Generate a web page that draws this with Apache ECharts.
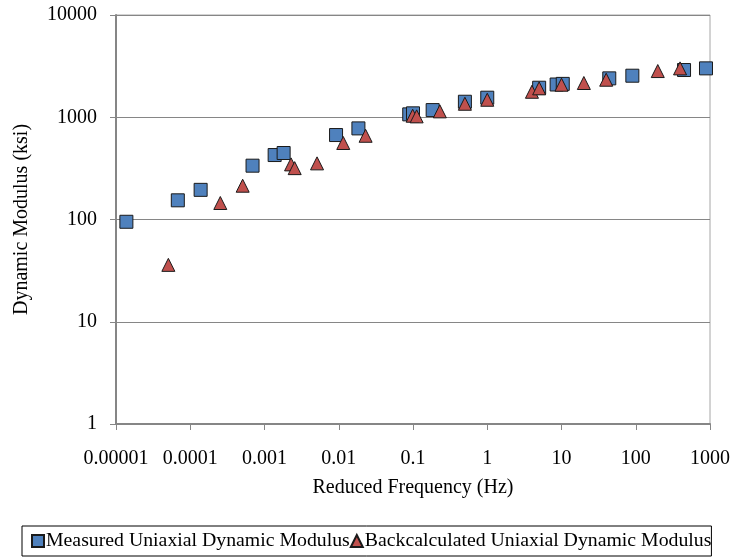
<!DOCTYPE html>
<html>
<head>
<meta charset="utf-8">
<script src="https://cdn.jsdelivr.net/npm/echarts@6/dist/echarts.min.js"></script>
<style>
  html, body { margin: 0; padding: 0; background: #fff; }
  #chart { width: 735px; height: 559px; }
</style>
</head>
<body>
<div id="chart"></div>
<script>
// Reduced frequency (Hz) and dynamic modulus (ksi) for each data set
const measuredFreq = [1.38e-5, 6.8e-5, 1.38e-4, 6.9e-4, 1.37e-3, 1.81e-3, 9.2e-3, 0.0184, 0.089, 0.1, 0.184, 0.5, 1.0, 5.0, 8.6, 10.4, 44, 90, 447, 883];
const measuredMod  = [95, 154, 195, 336, 427, 447, 670, 778, 1067, 1092, 1175, 1418, 1553, 1944, 2090, 2120, 2400, 2548, 2897, 3007];

const backFreq = [5.07e-5, 2.54e-4, 5.08e-4, 2.28e-3, 2.55e-3, 5.1e-3, 0.0115, 0.023, 0.099, 0.112, 0.23, 0.5, 1.0, 4.0, 5.0, 10, 20, 40, 198, 395];
const backMod  = [36, 145, 214, 346, 318, 354, 560, 659, 1035, 1020, 1142, 1355, 1483, 1775, 1918, 2080, 2162, 2328, 2830, 3006];

const seriesNames = ['Measured Uniaxial Dynamic Modulus', 'Backcalculated Uniaxial Dynamic Modulus'];
const xTickLabels = ['0.00001', '0.0001', '0.001', '0.01', '0.1', '1', '10', '100', '1000'];
const yTickLabels = ['1', '10', '100', '1000', '10000'];

const FONT = '"Liberation Serif", "Times New Roman", serif';
const AXIS_GRAY = '#868686';

function pairs(xs, ys) { return xs.map((x, i) => [x, ys[i]]); }
function decadeIndex(v, firstExp) { return Math.round(Math.log10(v)) - firstExp; }

const chart = echarts.init(document.getElementById('chart'), null, { renderer: 'canvas' });
chart.setOption({
  animation: false,
  backgroundColor: '#ffffff',
  textStyle: { fontFamily: FONT },
  grid: {
    left: 116, right: 25, top: 15, bottom: 135,
    show: true, borderColor: '#a6a6a6', borderWidth: 1, backgroundColor: 'transparent'
  },
  xAxis: {
    type: 'log', logBase: 10, min: 1e-5, max: 1000, splitNumber: 8,
    name: 'Reduced Frequency (Hz)', nameLocation: 'middle', nameGap: 54,
    nameTextStyle: { fontFamily: FONT, fontSize: 20, color: '#000' },
    axisLine: { show: true, lineStyle: { color: AXIS_GRAY, width: 2 } },
    axisTick: { show: true, inside: false, length: 6, lineStyle: { color: AXIS_GRAY, width: 1 } },
    axisLabel: {
      margin: 25, fontFamily: FONT, fontSize: 20, color: '#000',
      formatter: v => xTickLabels[decadeIndex(v, -5)] ?? ''
    },
    splitLine: { show: false },
    minorTick: { show: false }
  },
  yAxis: {
    type: 'log', logBase: 10, min: 1, max: 10000, splitNumber: 4,
    name: 'Dynamic Modulus (ksi)', nameLocation: 'middle', nameGap: 84,
    nameTextStyle: { fontFamily: FONT, fontSize: 20, color: '#000' },
    axisLine: { show: true, lineStyle: { color: AXIS_GRAY, width: 2 } },
    axisTick: { show: true, inside: false, length: 6, lineStyle: { color: AXIS_GRAY, width: 1 } },
    axisLabel: {
      margin: 19, fontFamily: FONT, fontSize: 20, color: '#000',
      padding: [4, 0, 0, 0],
      formatter: v => yTickLabels[decadeIndex(v, 0)] ?? ''
    },
    splitLine: { show: true, lineStyle: { color: AXIS_GRAY, width: 1 } }
  },
  legend: {
    left: 22, top: 526,
    orient: 'horizontal',
    padding: [5, 0, 5, 9],
    borderColor: '#000', borderWidth: 1,
    itemGap: 0, itemWidth: 12, itemHeight: 12,
    textStyle: { fontFamily: FONT, fontSize: 19.8, color: '#000', padding: [0, 0, 0, -3] },
    data: [
      { name: seriesNames[0], icon: 'rect' },
      { name: seriesNames[1], icon: 'triangle' }
    ]
  },
  series: [
    {
      name: seriesNames[0], type: 'scatter', symbol: 'rect', symbolSize: 13,
      itemStyle: { color: '#4f81bd', borderColor: '#1a1a1a', borderWidth: 1, opacity: 1 },
      data: pairs(measuredFreq, measuredMod), z: 2
    },
    {
      name: seriesNames[1], type: 'scatter', symbol: 'triangle', symbolSize: 13,
      itemStyle: { color: '#c0504d', borderColor: '#1a1a1a', borderWidth: 1, opacity: 1 },
      data: pairs(backFreq, backMod), z: 3
    }
  ]
});
</script>
</body>
</html>
